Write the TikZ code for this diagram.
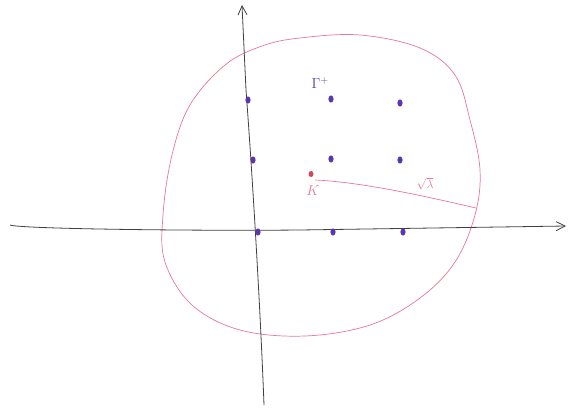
\documentclass[tikz,border=0pt]{standalone}
\usetikzlibrary{arrows.meta}
\definecolor{pk}{RGB}{232,120,150}
\definecolor{pkdot}{RGB}{215,70,90}
\definecolor{vi}{RGB}{90,55,175}
\begin{document}
\begin{tikzpicture}[x=1pt,y=-1pt,
  axis/.style={draw=black!75, line width=0.8pt, -{Straight Barb[length=9pt,width=9pt]}},
  latdot/.style={fill=vi, draw=none},
  pinkline/.style={draw=pk, line width=0.7pt},
  lbl/.style={text=vi, font=\Large},
]
\useasboundingbox (0,0) rectangle (573,409);
% pink region
\path[pinkline] plot[smooth cycle, tension=0.6] coordinates {
 (300,38) (360,35) (420,48) (455,75) (470,120) (480,170) (475,215) (455,262)
 (420,298) (370,325) (305,336) (240,330) (192,305) (165,262) (163,215)
 (172,155) (190,105) (225,65) (262,46)};
% axes
\coordinate (ybot) at (264,405);
\coordinate (ytop) at (242,5);
\coordinate (xl) at (10,225);
\coordinate (xr) at (566,226);
\draw[axis] (ybot) .. controls (260,300) and (252,170) .. (246,90) -- (ytop);
\draw[axis] (xl) .. controls (20,229) and (200,231) .. (300,230) -- (xr);
% lattice points
\foreach \p in {(248,100), (253,160), (258,232), (331,99), (400,103),
  (331,159), (400,160), (333,232), (403,232)}{
  \fill[latdot] \p ellipse (2.6 and 3.6);
}
\node[lbl, anchor=south west] (gam) at (308,92) {$\Gamma^{+}$};
% K point
\coordinate (K) at (311,174);
\fill[pkdot] (K) ellipse (2.5 and 3);
\node[text=pk, font=\Large] (Klab) at (313,191) {$K$};
\coordinate (rim) at (476,208);
\draw[pinkline] (K) ++(4,6) .. controls (360,182) and (420,195) .. (rim);
\node[text=pk, font=\large] (sq) at (425,184) {$\sqrt{\lambda}$};
\end{tikzpicture}
\end{document}
